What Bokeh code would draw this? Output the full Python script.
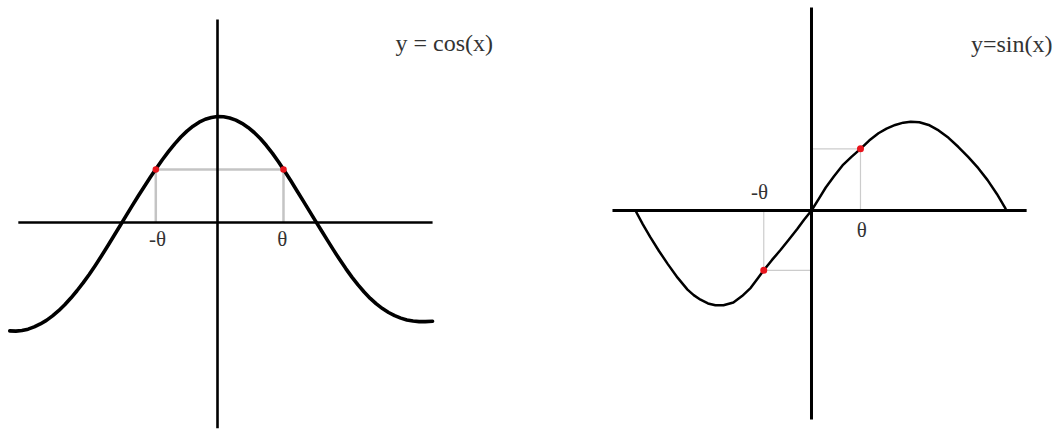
from bokeh.plotting import figure
from bokeh.models import Range1d
from bokeh.core.properties import value
from bokeh.embed import file_html
from bokeh.resources import INLINE

# ---- left panel: y = cos(x) (x in radians) ----
cos_x = [-3.4, -3.3, -3.2, -3.1, -3.0, -2.9, -2.8, -2.7, -2.6, -2.5,
         -2.4, -2.3, -2.2, -2.1, -2.0, -1.9, -1.8, -1.7, -1.6, -1.5,
         -1.4, -1.3, -1.2, -1.1, -1.0, -0.9, -0.8, -0.7, -0.6, -0.5,
         -0.4, -0.3, -0.2, -0.1, 0.0, 0.1, 0.2, 0.3, 0.4, 0.5,
         0.6, 0.7, 0.8, 0.9, 1.0, 1.1, 1.2, 1.3, 1.4, 1.5,
         1.6, 1.7, 1.8, 1.9, 2.0, 2.1, 2.2, 2.3, 2.4, 2.5,
         2.6, 2.7, 2.8, 2.9, 3.0, 3.1, 3.2, 3.3, 3.4, 3.52]
cos_y = [-1.022, -1.025, -1.019, -1.006, -0.985, -0.957, -0.923, -0.881, -0.832, -0.776,
         -0.713, -0.644, -0.570, -0.490, -0.405, -0.316, -0.224, -0.130, -0.035, 0.060,
         0.154, 0.247, 0.338, 0.426, 0.512, 0.594, 0.671, 0.742, 0.806, 0.862,
         0.909, 0.946, 0.974, 0.991, 1.000, 0.997, 0.986, 0.966, 0.936, 0.897,
         0.849, 0.792, 0.726, 0.652, 0.571, 0.484, 0.393, 0.300, 0.206, 0.112,
         0.018, -0.076, -0.169, -0.261, -0.350, -0.435, -0.515, -0.589, -0.656, -0.716,
         -0.768, -0.812, -0.849, -0.879, -0.902, -0.919, -0.930, -0.935, -0.935, -0.932]
cos_pts_x = [-1.01, 1.08]
cos_pts_y = [0.50, 0.50]
cos_labels = ["-θ", "θ"]
cos_title = "y = cos(x)"

# ---- right panel: y = sin(x) ----
sin_x = [-2.84, -2.72, -2.60, -2.46, -2.32, -2.16, -2.00, -1.90, -1.79, -1.67,
         -1.55, -1.42, -1.26, -1.12, -0.98, -0.88, -0.77, -0.64, -0.50, -0.37,
         -0.23, -0.12, 0.00, 0.12, 0.23, 0.36, 0.50, 0.64, 0.79, 0.93,
         1.08, 1.21, 1.35, 1.48, 1.60, 1.74, 1.89, 2.05, 2.21, 2.37,
         2.53, 2.69, 2.84, 2.99, 3.13]
sin_y = [0.00, -0.15, -0.29, -0.44, -0.58, -0.73, -0.86, -0.92, -0.97, -1.01,
         -1.03, -1.03, -1.00, -0.93, -0.84, -0.75, -0.65, -0.54, -0.43, -0.32,
         -0.20, -0.10, 0.00, 0.13, 0.25, 0.37, 0.49, 0.58, 0.67, 0.76,
         0.84, 0.89, 0.93, 0.955, 0.965, 0.96, 0.93, 0.87, 0.79, 0.69,
         0.58, 0.46, 0.33, 0.18, 0.02]
sin_pts_x = [-0.77, 0.79]
sin_pts_y = [-0.65, 0.67]
sin_labels = ["-θ", "θ"]
sin_title = "y=sin(x)"

W, H = 1055, 430
FONT = value("Liberation Serif")

p = figure(width=W, height=H, output_backend="svg", toolbar_location=None,
           x_axis_type=None, y_axis_type=None, title=None, min_border=0,
           x_range=Range1d(-3.5516, 13.7152), y_range=Range1d(-1.9623, 2.0943))
p.extra_x_ranges = {"sx": Range1d(-13.0806, 3.9355)}
p.extra_y_ranges = {"sy": Range1d(-2.3913, 2.2826)}
p.grid.visible = False
p.outline_line_color = None
p.background_fill_color = "white"
p.border_fill_color = "white"

# ---------- left panel ----------
p.segment(x0=[cos_pts_x[0], cos_pts_x[0], cos_pts_x[1]],
          y0=[cos_pts_y[0], cos_pts_y[0], cos_pts_y[1]],
          x1=[cos_pts_x[1], cos_pts_x[0], cos_pts_x[1]],
          y1=[cos_pts_y[1], 0, 0],
          line_color="#c4c4c4", line_width=2.5)
p.segment(x0=[-3.26, 0], y0=[0, -1.94], x1=[3.52, 0], y1=[0, 1.915],
          line_color="black", line_width=2.6)
p.line(cos_x, cos_y, line_color="black", line_width=3.6, line_join="round", line_cap="round")
p.scatter(cos_pts_x, cos_pts_y, size=6.5, fill_color="#e8141c", line_color=None)
p.text(x=[-0.98, 1.06], y=[-0.151, -0.151], text=cos_labels, text_font=FONT,
       text_font_size="21px", text_color="#333333", text_align="center",
       text_baseline="middle")
p.text(x=[2.913], y=[1.689], text=[cos_title], text_font=FONT, text_font_size="24px",
       text_color="#333333", text_align="left", text_baseline="alphabetic")

# ---------- right panel ----------
p.segment(x0=[0, sin_pts_x[1], sin_pts_x[0], sin_pts_x[0]],
          y0=[sin_pts_y[1], sin_pts_y[1], 0, sin_pts_y[0]],
          x1=[sin_pts_x[1], sin_pts_x[1], sin_pts_x[0], 0],
          y1=[sin_pts_y[1], 0, sin_pts_y[0], sin_pts_y[0]],
          line_color="#cccccc", line_width=1.2,
          x_range_name="sx", y_range_name="sy")
p.segment(x0=[-3.21, 0], y0=[0, -2.272], x1=[3.47, 0], y1=[0, 2.207],
          line_color="black", line_width=3, x_range_name="sx", y_range_name="sy")
p.line(sin_x, sin_y, line_color="black", line_width=2.5, line_join="round",
       line_cap="round", x_range_name="sx", y_range_name="sy")
p.scatter(sin_pts_x, sin_pts_y, size=7, fill_color="#e8141c", line_color=None,
          x_range_name="sx", y_range_name="sy")
p.text(x=[-0.84, 0.81], y=[0.196, -0.217], text=sin_labels, text_font=FONT,
       text_font_size="21px", text_color="#333333", text_align="center",
       text_baseline="middle", x_range_name="sx", y_range_name="sy")
p.text(x=[3.887], y=[1.815], text=[sin_title], text_font=FONT, text_font_size="24px",
       text_color="#333333", text_align="right", text_baseline="alphabetic",
       x_range_name="sx", y_range_name="sy")

open("out.html", "w").write(file_html(p, INLINE))
